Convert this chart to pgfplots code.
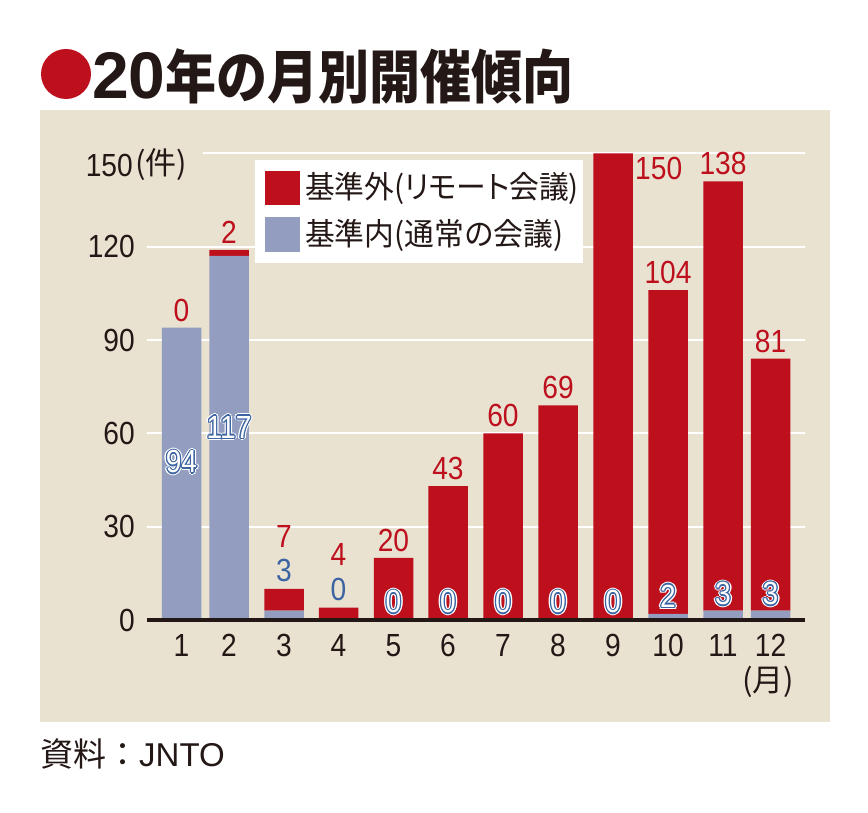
\documentclass[border=0pt]{standalone}
\usepackage{fontspec}
\setmainfont{Liberation Sans}
\newfontfamily\numfont{Liberation Sans}[FakeStretch=0.88]
\newfontfamily\jp{Noto Sans CJK JP}
\newfontfamily\jpl{Noto Sans CJK JP}[FakeStretch=0.96]
\newfontfamily\jpp{Noto Sans CJK JP}[FakeStretch=0.96,CharacterWidth=AlternateProportional]
\newfontfamily\jpt{Noto Sans CJK JP}[FakeStretch=0.88]
\usepackage{pgfplots}
\usepackage{pgfplotstable}
\pgfplotsset{compat=1.18}

\definecolor{cred}{HTML}{BD0F1C}
\definecolor{cblue}{HTML}{939DBF}
\definecolor{lblue}{HTML}{3C64A2}
\definecolor{bg}{HTML}{E9E2D1}
\definecolor{txt}{HTML}{231815}

% x = bar centre (px), in = 基準内, out = 基準外
\pgfplotstableread{
x     in  out
181.5 94  0
229   117 2
284   3   7
338.5 0   4
393.5 0   20
448   0   43
503   0   60
558   0   69
613   0   150
668   2   104
723   3   138
770.5 3   81
}\monthly

\tikzset{
  lbl/.style={inner sep=0pt,font=\numfont\fontsize{32}{32}\selectfont},
  rl/.style={lbl,text=cred,anchor=south},
  bl/.style={lbl,text=lblue,anchor=south},
  olh/.style={lbl,text=white},
  olb/.style={lbl,text=lblue},
}
% white figure with thin blue outline and white halo, at a named coordinate
\newcommand\olab[2]{%
  \foreach \dx/\dy in {2.6/0,-2.6/0,0/2.6,0/-2.6,1.85/1.85,-1.85/1.85,1.85/-1.85,-1.85/-1.85}
    {\node[olh] at ([shift={(\dx pt,\dy pt)}]#1) {#2};}
  \foreach \dx/\dy in {1.3/0,-1.3/0,0/1.3,0/-1.3,0.92/0.92,-0.92/0.92,0.92/-0.92,-0.92/-0.92}
    {\node[olb] at ([shift={(\dx pt,\dy pt)}]#1) {#2};}
  \node[olh] at (#1) {#2};}
\newcommand\rlab[3]{\node[rl,yshift=6pt] at (axis cs:#1,#2) {#3};}

\begin{document}
\begin{tikzpicture}
\begin{scope}[x=1pt,y=-1pt,shift={(0pt,813pt)}]
  \fill[white] (0,0) rectangle (868,813);
  \fill[bg] (40,110) rectangle (830,722);
  \fill[cred] (66,74) circle (25);
  \node[anchor=base west,inner sep=0pt,text=txt] at (92,99)
    {{\fontsize{66}{66}\selectfont\bfseries 20}{\jpt\bfseries\fontsize{58}{58}\selectfont 年の月別開催傾向}};
  \node[anchor=west,inner sep=0pt,text=txt] at (40,754)
    {{\jp\fontsize{33}{33}\selectfont 資料：}{\fontsize{33}{33}\selectfont JNTO}};
\end{scope}

\begin{axis}[
  at={(147pt,193pt)}, anchor=south west,
  x=1pt, y=3.1111pt,
  xmin=147, xmax=805, ymin=0, ymax=150,
  clip=false,
  ybar stacked, bar width=39.5,
  axis x line*=bottom, axis y line*=left,
  axis line style={draw=none},
  major tick length=0pt,
  xtick={181.5,229,284,338.5,393.5,448,503,558,613,668,723,770.5},
  xticklabels={1,2,3,4,5,6,7,8,9,10,11,12},
  ytick={0,30,60,90,120,150},
  yticklabels={0,30,60,90,120,{}},
  tick label style={text=txt,inner sep=0pt,font=\numfont\fontsize{32}{32}\selectfont},
  xticklabel style={anchor=north,yshift=-14pt},
  yticklabel style={anchor=east,xshift=-12pt},
  ymajorgrids,
  major grid style={draw=white,line width=2pt},
]
\addplot[fill=cblue,draw=none] table[x=x,y=in]{\monthly};
\addplot[fill=cred,draw=none] table[x=x,y=out]{\monthly};

% 基準外 labels
\rlab{181.5}{94}{0}
\rlab{229}{119}{2}
\node[rl,yshift=41pt] at (axis cs:284,10) {7};
\node[rl,yshift=42pt] at (axis cs:338.5,4) {4};
\rlab{393.5}{20}{20}
\rlab{448}{43}{43}
\rlab{503}{60}{60}
\rlab{558}{69}{69}
\node[lbl,text=cred,anchor=north west,yshift=-4pt] at (axis cs:635,150) {150};
\rlab{668}{106}{104}
\rlab{723}{141}{138}
\rlab{770.5}{84}{81}

% 基準内 labels
\node[bl,yshift=7pt] at (axis cs:284,10) {3};
\node[bl,yshift=7pt] at (axis cs:338.5,4) {0};
\coordinate (i1) at (axis cs:181.5,50.8);
\coordinate (i2) at (axis cs:229,62);
\coordinate (i5) at (axis cs:393.5,5.8);
\coordinate (i6) at (axis cs:448,5.8);
\coordinate (i7) at (axis cs:503,5.8);
\coordinate (i8) at (axis cs:558,5.8);
\coordinate (i9) at (axis cs:613,5.8);
\coordinate (i10) at (axis cs:668,7.7);
\coordinate (i11) at (axis cs:723,8.4);
\coordinate (i12) at (axis cs:770.5,8.4);
\end{axis}

\foreach \c/\t in {i1/94,i2/117,i5/0,i6/0,i7/0,i8/0,i9/0,i10/2,i11/3,i12/3}
  {\olab{\c}{\t}}

\begin{scope}[x=1pt,y=-1pt,shift={(0pt,813pt)}]
  \draw[txt,line width=3.5pt] (147,620) -- (805,620);
  \fill[bg] (145,150) rectangle (203,157);
  \node[anchor=east,inner sep=0pt,text=txt,font=\numfont\fontsize{32}{32}\selectfont] at (133,165) {150};
  \node[anchor=west,inner sep=0pt,text=txt] at (135,165) {\jp\fontsize{31}{31}\selectfont(件)};
  \node[inner sep=0pt,text=txt] at (768,682) {\jp\fontsize{31}{31}\selectfont(月)};
  % legend
  \fill[white] (255,160) rectangle (583,263);
  \fill[cred] (265,171) rectangle (300,205);
  \fill[cblue] (265,217) rectangle (300,252);
  \node[anchor=west,inner sep=0pt,text=txt] at (305,188)
    {\jpl\fontsize{31}{31}\selectfont 基準外(\jpp リモート\jpl 会議)};
  \node[anchor=west,inner sep=0pt,text=txt] at (305,235)
    {\jpl\fontsize{31}{31}\selectfont 基準内(通常の会議)};
  \pgfresetboundingbox
  \path[use as bounding box] (0,0) rectangle (868,813);
\end{scope}
\end{tikzpicture}
\end{document}
